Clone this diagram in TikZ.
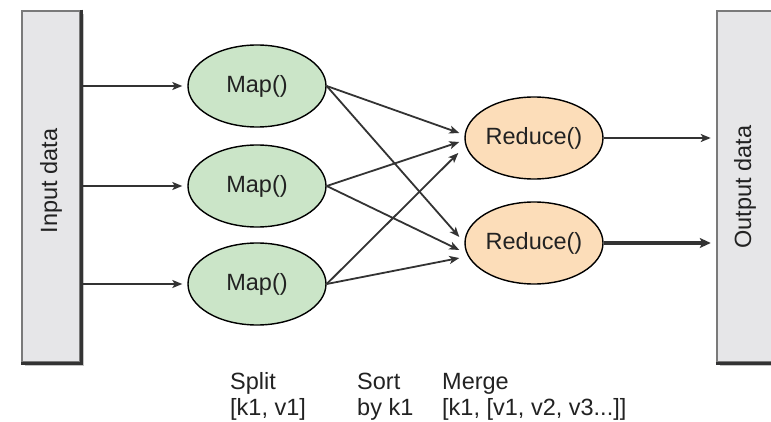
\documentclass[tikz,border=0pt]{standalone}
\usepackage{fontspec}
\setmainfont{Liberation Sans}
\usetikzlibrary{shapes.geometric,arrows.meta,calc}
\definecolor{boxfill}{HTML}{E6E6E8}
\definecolor{boxedge}{HTML}{7A7A7A}
\definecolor{boxdark}{HTML}{333333}
\definecolor{shadowc}{HTML}{C4C4C4}
\definecolor{mapfill}{HTML}{CBE5C8}
\definecolor{redfill}{HTML}{FCDDB9}
\definecolor{txt}{HTML}{222222}
\tikzset{
  lbl/.style={font=\fontsize{23.5}{26}\selectfont, text=txt, inner sep=0pt},
  mapnode/.style={ellipse, draw=black, line width=1.4pt, fill=mapfill, minimum width=138pt, minimum height=82pt, inner sep=0pt, lbl},
  rednode/.style={ellipse, draw=black, line width=1.4pt, fill=redfill, minimum width=138pt, minimum height=82pt, inner sep=0pt, lbl},
  databox/.style={rectangle, fill=boxfill, draw=boxedge, line width=2.5pt, inner sep=0pt},
  flow/.style={draw=boxdark, line width=1.8pt, -{Stealth[length=10pt,width=8pt,inset=2.5pt]}},
}
\begin{document}
\begin{tikzpicture}[x=1pt,y=-1pt]
\clip (0,0) rectangle (771,422);
\fill[white] (0,0) rectangle (771,422);
% shadows
\fill[shadowc] (25,14) rectangle (84,366);
\fill[shadowc] (720,14) rectangle (800,366);
% boxes
\node[databox, minimum width=58pt, minimum height=351pt] (in) at (51,186.5) {};
\node[lbl, rotate=90] (inlabel) at (51,181) {Input data};
\draw[boxdark, line width=2.5pt] (in.north east) -- (in.south east) -- (in.south west);
\node[databox, minimum width=90pt, minimum height=351pt] (out) at (762,186.5) {};
\draw[boxdark, line width=2.5pt] (out.south west) -- (out.south east);
\node[lbl, rotate=90] (outlabel) at (745,187) {Output data};
% map nodes
\node[mapnode] (m1) at (257,86) {Map()};
\node[mapnode] (m2) at (257,186) {Map()};
\node[mapnode] (m3) at (257,284) {Map()};
% reduce nodes
\node[rednode] (r1) at (534,138) {Reduce()};
\node[rednode] (r2) at (534,243) {Reduce()};
% input arrows
\draw[flow, shorten >=5pt] (in.east |- m1.west) -- (m1.west);
\draw[flow, shorten >=5pt] (in.east |- m2.west) -- (m2.west);
\draw[flow, shorten >=5pt] (in.east |- m3.west) -- (m3.west);
% shuffle arrows
\draw[flow] (m1.east) -- ([shift={(-5pt,5pt)}]r1.west);
\draw[flow] (m1.east) -- ([shift={(-5pt,6pt)}]r2.west);
\draw[flow] (m2.east) -- ([shift={(-5pt,-4pt)}]r1.west);
\draw[flow] (m2.east) -- ([shift={(-5pt,-7pt)}]r2.west);
\draw[flow] (m3.east) -- ([shift={(-6pt,-15pt)}]r1.west);
\draw[flow] (m3.east) -- ([shift={(-5pt,-15pt)}]r2.west);
% output arrows
\draw[flow, shorten >=5pt] (r1.east) -- (out.west |- r1.east);
\draw[flow, line width=4pt, shorten >=5pt, -{Stealth[length=11pt,width=10pt,inset=2.5pt]}] (r2.east) -- (out.west |- r2.east);
% bottom labels
\node[lbl, anchor=base west] (split) at (230,389) {Split};
\node[lbl, anchor=base west] (splitk) at (230,415) {[k1, v1]};
\node[lbl, anchor=base west] (sort) at (357,389) {Sort};
\node[lbl, anchor=base west] (sortk) at (357,415) {by k1};
\node[lbl, anchor=base west] (merge) at (442,389) {Merge};
\node[lbl, anchor=base west] (mergek) at (442,415) {[k1, [v1, v2, v3...]]};
\end{tikzpicture}
\end{document}
